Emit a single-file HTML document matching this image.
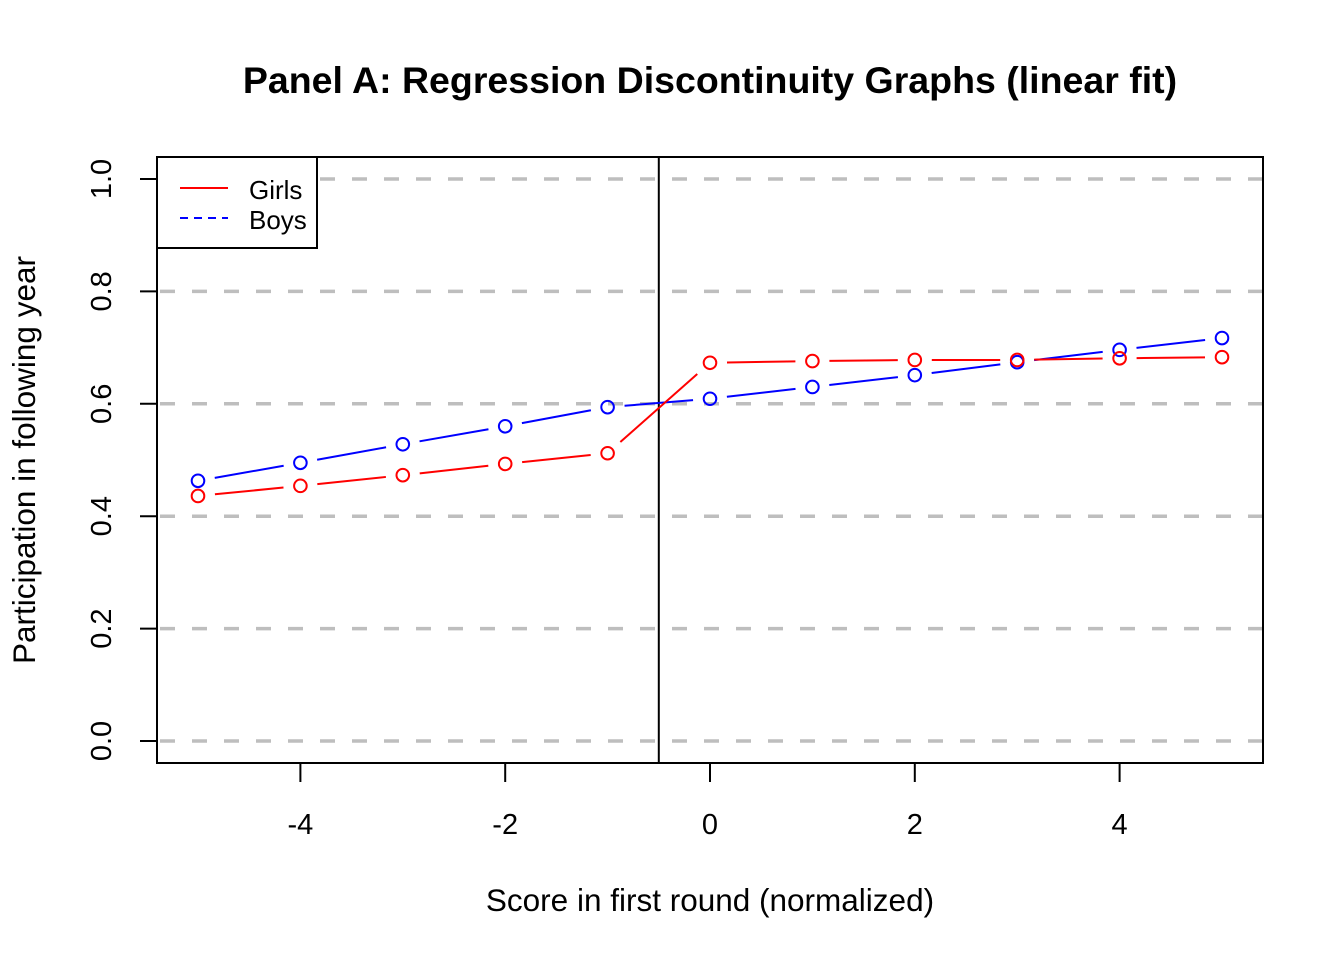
<!DOCTYPE html>
<html><head><meta charset="utf-8"><style>
body{margin:0;background:#fff;}
svg{display:block;font-family:"Liberation Sans",Arial,sans-serif;}
</style></head><body>
<svg id="chart" width="1344" height="960">
<text x="710" y="93" text-anchor="middle" font-size="37.5" font-weight="bold">Panel A: Regression Discontinuity Graphs (linear fit)</text>
<text x="710" y="911" text-anchor="middle" font-size="31.5">Score in first round (normalized)</text>
<text transform="translate(35,460) rotate(-90)" text-anchor="middle" font-size="31.5">Participation in following year</text>
<g id="grid"></g><g id="axes"></g><g id="series"></g>
<rect x="157" y="157" width="1106" height="606" fill="none" stroke="#000" stroke-width="2"/>
<g>
<rect x="157" y="157" width="160" height="91" fill="#fff" stroke="#000" stroke-width="2"/>
<line x1="180" y1="188" x2="228" y2="188" stroke="#f00" stroke-width="2"/>
<text x="249" y="199" font-size="26">Girls</text>
<line x1="180" y1="218" x2="228" y2="218" stroke="#00f" stroke-width="2" stroke-dasharray="8,6"/>
<text x="249" y="229" font-size="26">Boys</text>
</g>
</svg>
<script>
const xs=[-5,-4,-3,-2,-1,0,1,2,3,4,5];
const girls=[0.436,0.454,0.473,0.493,0.512,0.673,0.676,0.678,0.678,0.681,0.683];
const boys=[0.463,0.495,0.528,0.560,0.594,0.609,0.630,0.651,0.674,0.696,0.717];
const xTicks=[-4,-2,0,2,4];
const yTicks=[0,0.2,0.4,0.6,0.8,1.0];
const cutoff=-0.5;
const NS='http://www.w3.org/2000/svg';
const X=v=>710+v*102.4, Y=v=>741-v*562;
function mk(t,a,p){const e=document.createElementNS(NS,t);for(const k in a)e.setAttribute(k,a[k]);p.appendChild(e);return e;}
const grid=document.getElementById('grid'),axes=document.getElementById('axes'),ser=document.getElementById('series');
yTicks.forEach(v=>{
 const g=mk('line',{x1:160,x2:1263,y1:Y(v),y2:Y(v),stroke:'#bebebe','stroke-width':3.5,'stroke-dasharray':'15,17'},grid);
 
 
 const t=mk('line',{x1:140,x2:157,y1:Y(v),y2:Y(v),stroke:'#000','stroke-width':2},axes);
 
 
 const l=mk('text',{transform:`translate(111,${Y(v)}) rotate(-90)`,'text-anchor':'middle','font-size':29},axes);
 l.textContent=v.toFixed(1);
 
 
});
xTicks.forEach(v=>{
 const t=mk('line',{x1:X(v),x2:X(v),y1:763,y2:782,stroke:'#000','stroke-width':2},axes);
 
 
 const l=mk('text',{x:X(v),y:834,'text-anchor':'middle','font-size':29},axes);
 l.textContent=String(v);
 
 
});
const cl=mk('line',{x1:X(cutoff),x2:X(cutoff),y1:157,y2:763,stroke:'#000','stroke-width':2},axes);


function series(vals,col,name){
 for(let i=0;i<xs.length-1;i++){
  const x1=X(xs[i]),y1=Y(vals[i]),x2=X(xs[i+1]),y2=Y(vals[i+1]);
  const d=Math.hypot(x2-x1,y2-y1),g=17/d;
  const s=mk('line',{x1:x1+(x2-x1)*g,y1:y1+(y2-y1)*g,x2:x2-(x2-x1)*g,y2:y2-(y2-y1)*g,stroke:col,'stroke-width':2},ser);
  
  
 }
 xs.forEach((x,i)=>{
  const c=mk('circle',{cx:X(x),cy:Y(vals[i]),r:6.3,fill:'none',stroke:col,'stroke-width':2},ser);
  
  
 });
}
series(boys,'#00f','boys');
series(girls,'#f00','girls');
</script>
</body></html>
